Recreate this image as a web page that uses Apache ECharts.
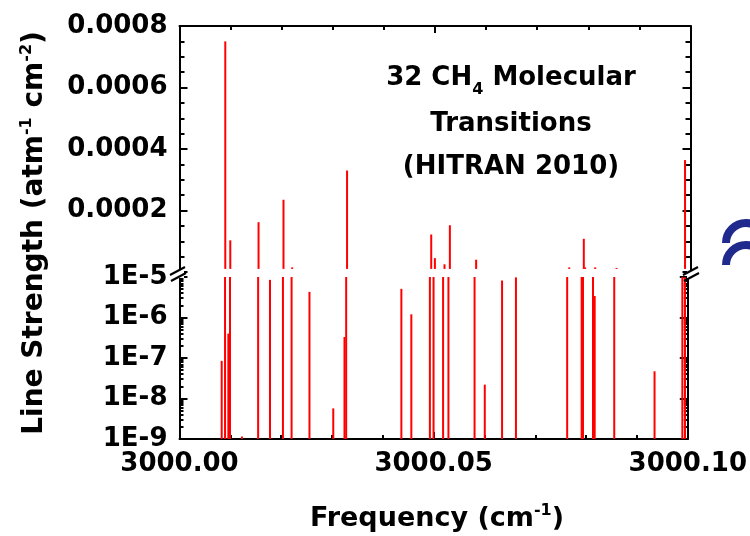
<!DOCTYPE html>
<html><head><meta charset="utf-8">
<script src="https://cdn.jsdelivr.net/npm/echarts@6/dist/echarts.min.js"></script>
<style>html,body{margin:0;padding:0;background:#fff}#c{width:750px;height:536px}</style>
</head><body><div id="c"></div>
<script>
// Transition frequencies (cm^-1) and line strengths (atm^-1 cm^-2)
const frequencies = [
  3000.00830, 3000.00896, 3000.00961, 3000.00994, 3000.01229, 3000.01547, 3000.01781, 3000.02035,
  3000.02205, 3000.02557, 3000.03025, 3000.03246, 3000.03279, 3000.04365, 3000.04561, 3000.04926,
  3000.04998, 3000.05186, 3000.05291, 3000.05805, 3000.06006, 3000.06346, 3000.06619, 3000.07627,
  3000.07912, 3000.07938, 3000.08135, 3000.08168, 3000.08553, 3000.09346, 3000.09893, 3000.09945
];
const strengths = [
  8.5e-8, 7.5e-4, 4.0e-7, 1.03e-4, 1.15e-9, 1.62e-4, 8.5e-6, 2.35e-4,
  1.5e-5, 4.3e-6, 5.7e-9, 3.3e-7, 3.3e-4, 5.1e-6, 1.2e-6, 1.22e-4,
  4.5e-5, 2.5e-5, 1.52e-4, 4.0e-5, 2.2e-8, 8.2e-6, 9.8e-6, 1.5e-5,
  1.08e-4, 1.5e-5, 1.5e-5, 3.4e-6, 1.3e-5, 4.7e-8, 3.64e-4, 9.8e-6
];
const xTickLabels = ['3000.00', '3000.05', '3000.10'];
const linearTickLabels = ['0.0002', '0.0004', '0.0006', '0.0008'];
const logTickLabels = ['1E-9', '1E-8', '1E-7', '1E-6', '1E-5'];

const BREAK = 1e-5;
const F = 'DejaVu Sans';
const RED = '#ff0000';
const lineStyle = {color: '#000', width: 2};

const minorLog = [];
for (let n = -9; n < -5; n++) for (let k = 2; k <= 9; k++) minorLog.push(n + Math.log10(k));

const chart = echarts.init(document.getElementById('c'), null, {renderer: 'canvas'});

const xCommon = {
  type: 'value', min: 3000, max: 3000.1, interval: 0.05,
  axisLine: {show: true, onZero: false, lineStyle},
  axisTick: {show: true, inside: true, length: 7, lineStyle},
  minorTick: {show: true, splitNumber: 5, length: 4, lineStyle},
  splitLine: {show: false}
};

const labelStyle = {color: '#000', fontWeight: 'bold', fontFamily: F, fontSize: 26};

const topBars = [];
frequencies.forEach((f, i) => { if (strengths[i] > BREAK) topBars.push([f, strengths[i]]); });
const bottomBars = frequencies.map((f, i) => [f, Math.log10(strengths[i])]);

const T = (size, lh) => ({fontSize: size, fontWeight: 'bold', fontFamily: F, fill: '#000', lineHeight: lh});
const supStyle = {fontSize: 16, fontWeight: 'bold', fontFamily: F, fill: '#000', lineHeight: 16, verticalAlign: 'top'};
const subStyle = {fontSize: 16, fontWeight: 'bold', fontFamily: F, fill: '#000', lineHeight: 16, verticalAlign: 'bottom'};

const option = {
  animation: false,
  backgroundColor: '#fff',
  grid: [
    {left: 179.5, right: 59.5, top: 26, height: 246, containLabel: false},
    {left: 179.5, right: 59.5, top: 277, bottom: 97, containLabel: false}
  ],
  xAxis: [
    Object.assign({}, xCommon, {gridIndex: 0, position: 'top', axisLabel: {show: false}}),
    Object.assign({}, xCommon, {gridIndex: 1, position: 'bottom',
      axisLabel: Object.assign({}, labelStyle, {show: true, margin: 12,
        formatter: v => { const i = Math.round((v - 3000) / 0.05); return xTickLabels[i] || ''; }})})
  ],
  yAxis: [
    {gridIndex: 0, type: 'value', position: 'left', min: 0, max: 0.0008, interval: 0.0002,
      axisLine: {show: true, onZero: false, lineStyle},
      axisTick: {show: true, inside: true, length: 8, lineStyle},
      minorTick: {show: true, splitNumber: 4, length: 5, lineStyle},
      splitLine: {show: false},
      axisLabel: Object.assign({}, labelStyle, {margin: 12, showMinLabel: false,
        formatter: v => { const i = Math.round(v / 0.0002) - 1; return i >= 0 ? linearTickLabels[i] : ''; }})},
    {gridIndex: 0, type: 'value', position: 'right', min: 0, max: 0.0008, interval: 0.0002,
      axisLine: {show: true, onZero: false, lineStyle},
      axisTick: {show: true, inside: true, length: 8, lineStyle},
      minorTick: {show: true, splitNumber: 4, length: 5, lineStyle},
      splitLine: {show: false}, axisLabel: {show: false}},
    {gridIndex: 1, type: 'value', position: 'left', min: -9, max: -5, interval: 1,
      axisLine: {show: true, onZero: false, lineStyle},
      axisTick: {show: true, inside: true, length: 8, lineStyle},
      splitLine: {show: false},
      axisLabel: Object.assign({}, labelStyle, {margin: 12,
        formatter: v => logTickLabels[Math.round(v + 9)] || ''})},
    {gridIndex: 1, type: 'value', position: 'right', min: -9, max: -5, interval: 1,
      axisLine: {show: true, onZero: false, lineStyle},
      axisTick: {show: true, inside: true, length: 8, lineStyle},
      splitLine: {show: false}, axisLabel: {show: false}},
    {gridIndex: 1, type: 'value', position: 'left', min: -9, max: -5, interval: 1,
      axisLine: {show: false},
      axisTick: {show: true, inside: true, length: 4, customValues: minorLog, lineStyle},
      splitLine: {show: false}, axisLabel: {show: false}},
    {gridIndex: 1, type: 'value', position: 'right', min: -9, max: -5, interval: 1,
      axisLine: {show: false},
      axisTick: {show: true, inside: true, length: 4, customValues: minorLog, lineStyle},
      splitLine: {show: false}, axisLabel: {show: false}}
  ],
  series: [
    {type: 'custom', xAxisIndex: 0, yAxisIndex: 0, data: topBars, clip: true,
      encode: {x: 0, y: 1},
      renderItem: (params, api) => {
        const x = api.value(0), v = api.value(1);
        const a = api.coord([x, BREAK]), b = api.coord([x, v]);
        return {type: 'rect', shape: {x: a[0] - 1, y: b[1], width: 2, height: a[1] - b[1]}, style: {fill: RED}};
      }},
    {type: 'custom', xAxisIndex: 1, yAxisIndex: 2, data: bottomBars, clip: true,
      encode: {x: 0, y: 1},
      renderItem: (params, api) => {
        const x = api.value(0), v = Math.min(api.value(1), -5);
        const a = api.coord([x, -9]), b = api.coord([x, v]);
        return {type: 'rect', shape: {x: a[0] - 1, y: b[1], width: 2, height: a[1] - b[1]}, style: {fill: RED}};
      }}
  ],
  graphic: [
    // axis break marks
    {type: 'rect', shape: {x: 176, y: 270, width: 8, height: 8}, style: {fill: '#fff'}, z: 100},
    {type: 'rect', shape: {x: 687, y: 270, width: 8, height: 8}, style: {fill: '#fff'}, z: 100},
    {type: 'line', shape: {x1: 170, y1: 275, x2: 185, y2: 267}, style: {stroke: '#000', lineWidth: 2}, z: 101},
    {type: 'line', shape: {x1: 171, y1: 281, x2: 186, y2: 273}, style: {stroke: '#000', lineWidth: 2}, z: 101},
    {type: 'line', shape: {x1: 683, y1: 275, x2: 698, y2: 267}, style: {stroke: '#000', lineWidth: 2}, z: 101},
    {type: 'line', shape: {x1: 684, y1: 281, x2: 699, y2: 273}, style: {stroke: '#000', lineWidth: 2}, z: 101},
    // annotation
    {type: 'text', x: 511, y: 78, z: 110, style: {
      text: '{t|32 CH}{s|4}{t| Molecular}', align: 'center', verticalAlign: 'middle',
      rich: {t: T(26, 40), s: subStyle}}},
    {type: 'text', x: 511, y: 124, z: 110, style: {text: 'Transitions', align: 'center', verticalAlign: 'middle',
      fontSize: 26, fontWeight: 'bold', fontFamily: F, fill: '#000'}},
    {type: 'text', x: 511, y: 167, z: 110, style: {text: '(HITRAN 2010)', align: 'center', verticalAlign: 'middle',
      fontSize: 26, fontWeight: 'bold', fontFamily: F, fill: '#000'}},
    // axis titles
    {type: 'text', x: 437, y: 519, z: 110, style: {
      text: '{t|Frequency (cm}{s|-1}{t|)}', align: 'center', verticalAlign: 'middle',
      rich: {t: T(27, 32), s: supStyle}}},
    {type: 'text', x: 35, y: 233, rotation: Math.PI / 2, z: 110, style: {
      text: '{t|Line Strength (atm}{s|-1}{t| cm}{s|-2}{t|)}', align: 'center', verticalAlign: 'middle',
      rich: {t: T(28, 32), s: supStyle}}},
    // decorative marks at right edge
    {type: 'arc', shape: {cx: 746, cy: 243, r: 20, startAngle: Math.PI * 1.0, endAngle: Math.PI * 1.75, clockwise: true},
      style: {stroke: '#1f2a8c', lineWidth: 8, fill: 'none'}},
    {type: 'arc', shape: {cx: 746, cy: 265, r: 20, startAngle: Math.PI * 1.0, endAngle: Math.PI * 1.75, clockwise: true},
      style: {stroke: '#1f2a8c', lineWidth: 8, fill: 'none'}}
  ]
};
chart.setOption(option);
</script>
</body></html>
